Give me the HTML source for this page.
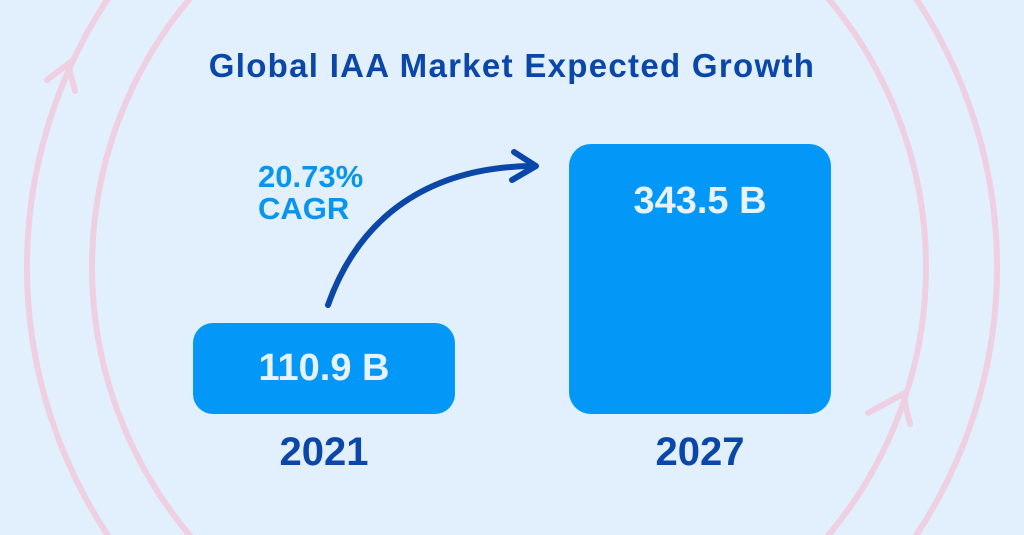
<!DOCTYPE html>
<html><head><style>
html,body{margin:0;padding:0}
body{width:1024px;height:535px;overflow:hidden;background:#e2effc;font-family:"Liberation Sans",sans-serif;position:relative}
.t{position:absolute;font-weight:bold;white-space:nowrap}
</style></head><body>
<svg width="1024" height="535" style="position:absolute;left:0;top:0;overflow:hidden">
<g fill="none" stroke="#efd0e2" stroke-width="6" stroke-linecap="round">
<circle cx="512" cy="267" r="485"/>
<circle cx="509" cy="267" r="417"/>
<path d="M47,80 L68,64 L75,91"/>
<path d="M868,413 L903,394 L910,424"/>
</g>
<rect x="193" y="323" width="262" height="91" rx="20" fill="#0397f8"/>
<rect x="569" y="144" width="262" height="270" rx="22" fill="#0397f8"/>
<g fill="none" stroke="#0a47a9" stroke-width="6" stroke-linecap="round" stroke-linejoin="round">
<path d="M328,305 C360,215 430,168 530,166"/>
<path d="M514,152 L536,166 L512,180"/>
</g>
</svg>
<div class="t" style="left:0;width:1024px;text-align:center;top:47px;font-size:33px;letter-spacing:1.3px;color:#0a47a9">Global IAA Market Expected Growth</div>
<div class="t" style="left:258px;top:161px;font-size:31px;line-height:32px;color:#0895f0">20.73%<br>CAGR</div>
<div class="t" style="left:193px;width:262px;text-align:center;top:347px;font-size:38px;color:#e8f2fc">110.9 B</div>
<div class="t" style="left:569px;width:262px;text-align:center;top:180px;font-size:38px;color:#e8f2fc">343.5 B</div>
<div class="t" style="left:193px;width:262px;text-align:center;top:430px;font-size:40px;color:#0a47a9">2021</div>
<div class="t" style="left:569px;width:262px;text-align:center;top:430px;font-size:40px;color:#0a47a9">2027</div>
</body></html>
